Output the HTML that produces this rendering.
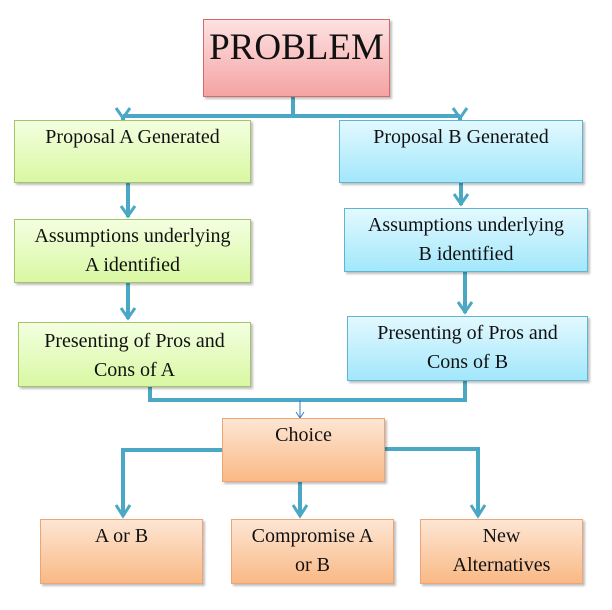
<!DOCTYPE html>
<html><head><style>
body{margin:0;width:612px;height:610px;background:#fff;position:relative;overflow:hidden;font-family:"Liberation Serif",serif;}
.b{position:absolute;box-sizing:border-box;text-align:center;font-size:20px;line-height:29px;color:#111;box-shadow:2px 2px 2px rgba(0,0,0,0.25);padding-top:2px;white-space:nowrap}
.g{background:linear-gradient(#f3ffe0,#d9f8a3);border:1px solid #a3c46a}
.u{background:linear-gradient(#e3f9ff,#a2e7fb);border:1px solid #5fb3d3}
.o{background:linear-gradient(#fde6d4,#f9b985);border:1px solid #eea475}
.p{background:linear-gradient(#fde2e2,#f5a3a3);border:1px solid #d46a6a}
svg{position:absolute;left:0;top:0}
</style></head><body>
<svg width="612" height="610" fill="none" stroke="#4aa8c4" stroke-width="4">
<path d="M293 97V116M123 116H460M123 116V121M460 116V121"/>
<path d="M116 108l7 10 7-10M453 108l7 10 7-10" stroke-width="3"/>
<path d="M128 183V217M461 183V205M128 283V319M465 272V313"/>
<path d="M121 206l7 10 7-10M454 194l7 10 7-10M121 308l7 10 7-10M458 302l7 10 7-10" stroke-width="3"/>
<path d="M150 387V400H465V381"/>
<path d="M300 400V418M296 412l4 6 4-6" stroke-width="1" stroke="#3b78c6"/>
<path d="M222 450H123V516M385 449H478V516M300 482V516"/>
<path d="M116 505l7 11 7-11M471 505l7 11 7-11M293 505l7 11 7-11" stroke-width="3"/>
</svg>
<div class="b p" style="left:203px;top:19px;width:187px;height:78px;font-size:37px;line-height:48px;padding-top:4px">PROBLEM</div>
<div class="b g" style="left:14px;top:120px;width:237px;height:63px">Proposal A Generated</div>
<div class="b u" style="left:339px;top:120px;width:244px;height:63px">Proposal B Generated</div>
<div class="b g" style="left:14px;top:219px;width:237px;height:64px">Assumptions underlying<br>A identified</div>
<div class="b u" style="left:344px;top:208px;width:244px;height:64px">Assumptions underlying<br>B identified</div>
<div class="b g" style="left:18px;top:322px;width:233px;height:65px;padding-top:4px">Presenting of Pros and<br>Cons of A</div>
<div class="b u" style="left:347px;top:316px;width:241px;height:65px">Presenting of Pros and<br>Cons of B</div>
<div class="b o" style="left:222px;top:418px;width:163px;height:64px">Choice</div>
<div class="b o" style="left:40px;top:519px;width:163px;height:65px">A or B</div>
<div class="b o" style="left:231px;top:519px;width:163px;height:65px">Compromise A<br>or B</div>
<div class="b o" style="left:420px;top:519px;width:163px;height:65px">New<br>Alternatives</div>
</body></html>
